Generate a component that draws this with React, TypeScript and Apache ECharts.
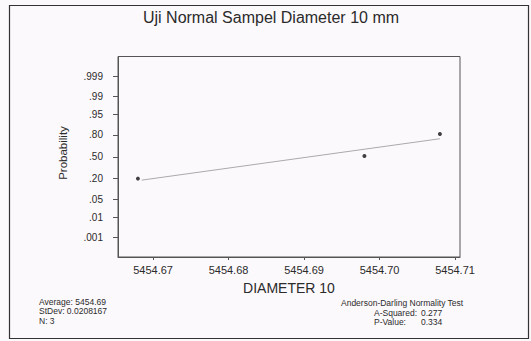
import React, { useEffect, useRef } from "react";
import * as echarts from "echarts";

// ---- data ----
const diameterValues = [5454.668, 5454.698, 5454.708];
const pointProbabilities = [0.2, 0.51, 0.81];
const fitLineX = [5454.6685, 5454.708];
const fitLineProb = [0.184, 0.756];
const xTickValues = [5454.67, 5454.68, 5454.69, 5454.7, 5454.71];
const probTickValues = [0.001, 0.01, 0.05, 0.2, 0.5, 0.8, 0.95, 0.99, 0.999];
const probTickLabels = [".001", ".01", ".05", ".20", ".50", ".80", ".95", ".99", ".999"];
const statsLeft = ["Average: 5454.69", "StDev: 0.0208167", "N: 3"];
const statsRightTitle = "Anderson-Darling Normality Test";
const statsRightNames = ["A-Squared:", "P-Value:"];
const statsRightValues = ["0.277", "0.334"];
const titleText = "Uji Normal Sampel Diameter 10 mm";
const xName = "DIAMETER 10";
const yName = "Probability";

// inverse standard normal CDF (Acklam) – normal probability scale
function invNorm(p: number): number {
  const a = [-3.969683028665376e1, 2.209460984245205e2, -2.759285104469687e2, 1.38357751867269e2, -3.066479806614716e1, 2.506628277459239];
  const b = [-5.447609879822406e1, 1.615858368580409e2, -1.556989798598866e2, 6.680131188771972e1, -1.328068155288572e1];
  const c = [-7.784894002430293e-3, -3.223964580411365e-1, -2.400758277161838, -2.549732539343734, 4.374664141464968, 2.938163982698783];
  const d = [7.784695709041462e-3, 3.224671290700398e-1, 2.445134137142996, 3.754408661907416];
  const pl = 0.02425;
  let q: number, r: number;
  if (p < pl) {
    q = Math.sqrt(-2 * Math.log(p));
    return (((((c[0] * q + c[1]) * q + c[2]) * q + c[3]) * q + c[4]) * q + c[5]) / ((((d[0] * q + d[1]) * q + d[2]) * q + d[3]) * q + 1);
  }
  if (p > 1 - pl) {
    q = Math.sqrt(-2 * Math.log(1 - p));
    return -(((((c[0] * q + c[1]) * q + c[2]) * q + c[3]) * q + c[4]) * q + c[5]) / ((((d[0] * q + d[1]) * q + d[2]) * q + d[3]) * q + 1);
  }
  q = p - 0.5;
  r = q * q;
  return ((((((a[0] * r + a[1]) * r + a[2]) * r + a[3]) * r + a[4]) * r + a[5]) * q) / (((((b[0] * r + b[1]) * r + b[2]) * r + b[3]) * r + b[4]) * r + 1);
}

const FONT = "'Liberation Sans', Arial, sans-serif";
const TEXT = "#2b2b2b";

export default function App() {
  const ref = useRef<HTMLDivElement>(null);
  useEffect(() => {
    if (!ref.current) return;
    const chart = echarts.init(ref.current, null, { renderer: "svg" });
    const probZ = probTickValues.map(invNorm);
    const points = diameterValues.map((x, i) => [x, invNorm(pointProbabilities[i])]);
    const fit = fitLineX.map((x, i) => [x, invNorm(fitLineProb[i])]);
    const statText = (t: string, x: number, y: number, extra: any = {}) => ({
      type: "text",
      x,
      y,
      silent: true,
      style: { text: t, fill: TEXT, font: `8.5px ${FONT}`, textVerticalAlign: "middle", ...extra },
    });
    chart.setOption({
      animation: false,
      backgroundColor: "#fcf9fc",
      grid: {
        left: 118,
        top: 56.5,
        width: 342,
        height: 200.5,
        show: true,
        borderColor: "#555",
        borderWidth: 1,
        backgroundColor: "transparent",
      },
      xAxis: {
        type: "value",
        min: 5454.66536,
        max: 5454.71066,
        axisLine: { show: true, onZero: false, lineStyle: { color: "#555", width: 1 } },
        axisTick: { show: true, length: 3, customValues: xTickValues, lineStyle: { color: "#555" } },
        splitLine: { show: false },
        axisLabel: {
          customValues: xTickValues,
          formatter: (v: number) => v.toFixed(2),
          color: TEXT,
          fontFamily: FONT,
          fontSize: 11,
          margin: 7,
        },
      },
      yAxis: {
        type: "value",
        min: -3.86,
        max: 3.86,
        axisLine: { show: true, onZero: false, lineStyle: { color: "#555", width: 1 } },
        axisTick: { show: true, length: 5, customValues: probZ, lineStyle: { color: "#555" } },
        splitLine: { show: false },
        axisLabel: {
          customValues: probZ,
          formatter: (v: number) => {
            let best = 0;
            probZ.forEach((z, i) => {
              if (Math.abs(z - v) < Math.abs(probZ[best] - v)) best = i;
            });
            return probTickLabels[best];
          },
          color: TEXT,
          fontFamily: FONT,
          fontSize: 10,
          margin: 15,
        },
      },
      series: [
        {
          type: "line",
          data: fit,
          showSymbol: false,
          symbol: "none",
          lineStyle: { color: "#aaaaaa", width: 1 },
          silent: true,
          z: 2,
        },
        {
          type: "scatter",
          data: points,
          symbol: "circle",
          symbolSize: 4,
          itemStyle: { color: "#111" },
          z: 3,
        },
      ],
      graphic: [
        {
          type: "rect",
          shape: { x: 9.5, y: 5.5, width: 519, height: 333 },
          style: { fill: "none", stroke: "#333", lineWidth: 1.2 },
          silent: true,
        },
        {
          type: "text",
          x: 271,
          y: 17.5,
          style: { text: titleText, fill: TEXT, font: `16px ${FONT}`, textAlign: "center", textVerticalAlign: "middle" },
        },
        {
          type: "text",
          x: 289,
          y: 288,
          style: { text: xName, fill: TEXT, font: `14px ${FONT}`, textAlign: "center", textVerticalAlign: "middle" },
        },
        {
          type: "text",
          x: 63,
          y: 153,
          rotation: Math.PI / 2,
          style: { text: yName, fill: TEXT, font: `11.5px ${FONT}`, textAlign: "center", textVerticalAlign: "middle" },
        },
        ...statsLeft.map((t, i) => statText(t, 39, 302 + i * 9.3)),
        statText(statsRightTitle, 341, 303),
        ...statsRightNames.map((t, i) => statText(t, 374, 312.5 + i * 9.3)),
        ...statsRightValues.map((t, i) => statText(t, 421, 312.5 + i * 9.3)),
      ],
    });
    return () => chart.dispose();
  }, []);
  return (
    <div
      ref={ref}
      style={{ position: "fixed", left: 0, top: 0, width: 531, height: 341 }}
    />
  );
}
